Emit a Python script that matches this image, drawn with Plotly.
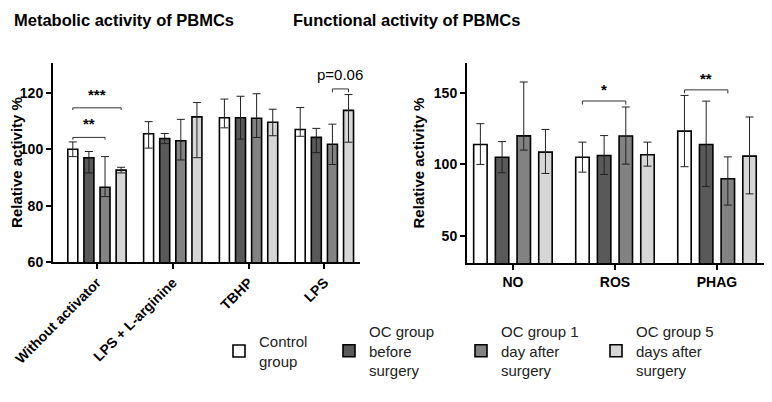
import plotly.graph_objects as go
from plotly.subplots import make_subplots

groups = ["Control<br>group", "OC group<br>before<br>surgery", "OC group 1<br>day after<br>surgery", "OC group 5<br>days after<br>surgery"]
colors = ["#ffffff", "#595959", "#828282", "#d6d6d6"]

# left panel: metabolic activity
met_cats = ["Without activator", "LPS + L-arginine", "TBHP", "LPS"]
met_vals = [
    [100.0, 105.5, 111.2, 107.0],
    [97.0, 103.8, 111.2, 104.2],
    [86.5, 103.0, 111.0, 101.8],
    [92.6, 111.5, 109.6, 113.8],
]
met_hi = [
    [102.6, 109.8, 117.8, 114.8],
    [99.2, 105.6, 118.8, 107.4],
    [97.4, 110.6, 119.7, 108.9],
    [93.6, 116.6, 114.2, 119.4],
]
met_lo = [
    [97.4, 100.4, 107.6, 104.6],
    [91.6, 102.0, 103.6, 98.8],
    [83.2, 96.2, 104.2, 94.6],
    [91.6, 97.0, 104.8, 102.5],
]

# right panel: functional activity
fun_cats = ["NO", "ROS", "PHAG"]
fun_vals = [
    [114.0, 105.0, 123.3],
    [105.0, 106.3, 114.0],
    [120.0, 119.9, 90.0],
    [108.6, 106.8, 105.8],
]
fun_hi = [
    [128.5, 115.6, 148.3],
    [116.0, 120.2, 144.3],
    [157.7, 140.2, 105.3],
    [124.5, 115.6, 133.2],
]
fun_lo = [
    [100.0, 94.6, 98.4],
    [94.2, 93.0, 84.6],
    [110.0, 100.2, 71.5],
    [93.7, 98.8, 79.4],
]

FONT = "Arial, Liberation Sans, sans-serif"
BARGAP = 0.15

# page has an 8px body margin, so the figure is a bit smaller and positions are shifted
OFF = 8
W, H = 772 - OFF, 402 - OFF
def px(x):
    return (x - OFF) / W
def py(y):
    return 1 - (y - OFF) / H

fig = make_subplots(rows=1, cols=2)

legend_ids = ["legend", "legend2", "legend3", "legend4"]
for i in range(4):
    fig.add_trace(go.Bar(
        x=list(range(len(met_cats))), y=met_vals[i], name=groups[i],
        marker=dict(color=colors[i], line=dict(color="black", width=1.6)),
        error_y=dict(type="data", symmetric=False,
                     array=[h - v for h, v in zip(met_hi[i], met_vals[i])],
                     arrayminus=[v - l for l, v in zip(met_lo[i], met_vals[i])],
                     color="#222222", thickness=1, width=4),
        legend=legend_ids[i], legendgroup=str(i)), row=1, col=1)
    fig.add_trace(go.Bar(
        x=list(range(len(fun_cats))), y=fun_vals[i], name=groups[i], showlegend=False,
        marker=dict(color=colors[i], line=dict(color="black", width=1.6)),
        error_y=dict(type="data", symmetric=False,
                     array=[h - v for h, v in zip(fun_hi[i], fun_vals[i])],
                     arrayminus=[v - l for l, v in zip(fun_lo[i], fun_vals[i])],
                     color="#222222", thickness=1, width=4),
        legend=legend_ids[i], legendgroup=str(i)), row=1, col=2)

slot = (1 - BARGAP) / 4
def bx(cat, k):
    return cat + (k - 1.5) * slot

def bracket(xref, yref, x0, x1, y, drop, text, ty):
    fig.add_shape(type="path", xref=xref, yref=yref,
                  path=f"M {x0},{y - drop} L {x0},{y} L {x1},{y} L {x1},{y - drop}",
                  line=dict(color="#333333", width=1))
    fig.add_annotation(xref=xref, yref=yref, x=(x0 + x1) / 2, y=ty, text=text,
                       xanchor="center", showarrow=False,
                       font=dict(family=FONT, size=15, color="black"))

bracket("x", "y", bx(0, 0), bx(0, 3), 114.7, 0.8, "<b>***</b>", 119.5)
bracket("x", "y", bx(0, 0), bx(0, 2), 104.2, 0.8, "<b>**</b>", 109.2)
bracket("x", "y", bx(3, 2), bx(3, 3), 121.4, 1.2, "p=0.06", 126.5)
bracket("x2", "y2", bx(1, 0), bx(1, 2), 144.4, 2.5, "<b>*</b>", 152.5)
bracket("x2", "y2", bx(2, 0), bx(2, 2), 152.2, 2.5, "<b>**</b>", 160.5)

axis_common = dict(showline=True, linecolor="black", linewidth=2, ticks="outside",
                   tickcolor="black", tickwidth=2, ticklen=5, showgrid=False, zeroline=False,
                   automargin=False, tickfont=dict(family=FONT, size=14, color="black"))

fig.update_xaxes(**axis_common)
fig.update_yaxes(**axis_common)
fig.update_xaxes(tickvals=list(range(len(met_cats))),
                 ticktext=[f"<b>{c}</b>" for c in met_cats], tickangle=-45,
                 range=[-0.58, 3.47], domain=[px(53), px(360)], row=1, col=1)
fig.update_xaxes(tickvals=list(range(len(fun_cats))),
                 ticktext=[f"<b>{c}</b>" for c in fun_cats], tickangle=0,
                 range=[-0.45, 2.49], domain=[px(467), px(767)], row=1, col=2)
fig.update_yaxes(range=[60, 130.6], tickvals=[60, 80, 100, 120],
                 ticktext=["<b>60</b>", "<b>80</b>", "<b>100</b>", "<b>120</b>"],
                 title=dict(text="<b>Relative activity %</b>", font=dict(family=FONT, size=15, color="black"), standoff=2),
                 domain=[py(262), py(63)], row=1, col=1)
fig.update_yaxes(range=[31, 171], tickvals=[50, 100, 150],
                 ticktext=["<b>50</b>", "<b>100</b>", "<b>150</b>"],
                 title=dict(text="<b>Relative activity %</b>", font=dict(family=FONT, size=15, color="black"), standoff=6),
                 domain=[py(263), py(63)], row=1, col=2)

TITLE_FONT = "Liberation Sans Narrow, Arial Narrow, " + FONT
fig.add_annotation(xref="paper", yref="paper", x=px(124), y=py(20), xanchor="center", yanchor="middle",
                   text="<b>Metabolic activity of PBMCs</b>", showarrow=False,
                   font=dict(family=TITLE_FONT, size=16.5, color="black"))
fig.add_annotation(xref="paper", yref="paper", x=px(407), y=py(20), xanchor="center", yanchor="middle",
                   text="<b>Functional activity of PBMCs</b>", showarrow=False,
                   font=dict(family=TITLE_FONT, size=16.5, color="black"))

# one legend per group so each entry sits where the reference has it
legend_text_x = [258, 368, 500, 635]
legend_style = dict(orientation="h", xanchor="left", y=py(351), yanchor="middle",
                    font=dict(family=FONT, size=15, color="#222222"), itemwidth=30,
                    bgcolor="rgba(0,0,0,0)")
legends = {lid: dict(legend_style, x=px(tx - 39)) for lid, tx in zip(legend_ids, legend_text_x)}

fig.update_layout(
    width=W, height=H,
    barmode="group", bargap=BARGAP, bargroupgap=0.38,
    plot_bgcolor="white", paper_bgcolor="white",
    margin=dict(l=0, r=0, t=0, b=0, autoexpand=False),
    font=dict(family=FONT, color="black"),
    **legends,
)

fig.write_html("out.html")
